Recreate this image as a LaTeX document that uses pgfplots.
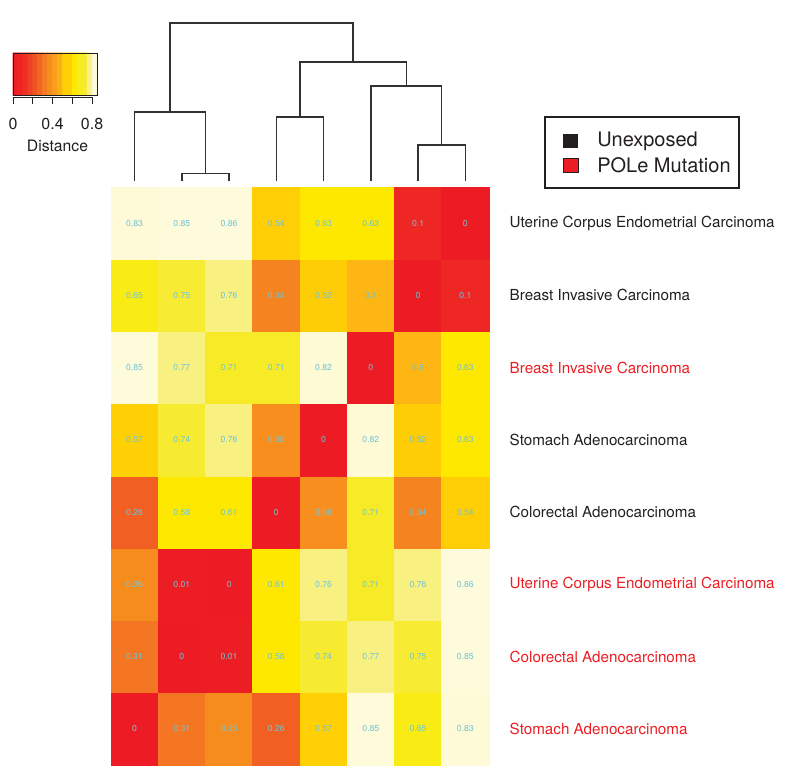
\documentclass[border=0pt]{standalone}
\usepackage{fontspec}
\setmainfont{TeX Gyre Heros}
\usepackage{pgfplots}
\pgfplotsset{compat=1.18}

\definecolor{labred}{RGB}{236,30,36}
\definecolor{cellblue}{RGB}{112,196,214}
\definecolor{dendro}{RGB}{50,50,50}
\definecolor{txt}{RGB}{35,31,32}

% R-style heat colours, positions = distance x 200
\pgfplotsset{colormap={heatR}{
  rgb255(0pt)=(237,28,36) rgb255(20pt)=(238,38,36) rgb255(52pt)=(241,95,34)
  rgb255(62pt)=(244,117,34) rgb255(72pt)=(246,140,30) rgb255(76pt)=(247,142,30)
  rgb255(100pt)=(253,182,20) rgb255(102pt)=(255,205,5) rgb255(115pt)=(255,208,4)
  rgb255(116pt)=(255,232,0) rgb255(126pt)=(255,232,0) rgb255(130pt)=(248,236,20)
  rgb255(150pt)=(247,235,52) rgb255(151pt)=(248,241,130) rgb255(154pt)=(248,241,130)
  rgb255(160pt)=(252,247,190) rgb255(164pt)=(254,250,214) rgb255(172pt)=(254,251,220)}}

\pgfplotstableread{
x y v
1 1 0
2 1 0.31
3 1 0.36
4 1 0.26
5 1 0.57
6 1 0.85
7 1 0.65
8 1 0.83
1 2 0.31
2 2 0
3 2 0.01
4 2 0.58
5 2 0.74
6 2 0.77
7 2 0.75
8 2 0.85
1 3 0.36
2 3 0.01
3 3 0
4 3 0.61
5 3 0.76
6 3 0.71
7 3 0.76
8 3 0.86
1 4 0.26
2 4 0.58
3 4 0.61
4 4 0
5 4 0.38
6 4 0.71
7 4 0.34
8 4 0.54
1 5 0.57
2 5 0.74
3 5 0.76
4 5 0.38
5 5 0
6 5 0.82
7 5 0.52
8 5 0.63
1 6 0.85
2 6 0.77
3 6 0.71
4 6 0.71
5 6 0.82
6 6 0
7 6 0.5
8 6 0.63
1 7 0.65
2 7 0.75
3 7 0.76
4 7 0.34
5 7 0.52
6 7 0.5
7 7 0
8 7 0.1
1 8 0.83
2 8 0.85
3 8 0.86
4 8 0.54
5 8 0.63
6 8 0.63
7 8 0.1
8 8 0
}\distmat

% colour key stripes
\pgfplotstableread{
x y v
0.025 0.25 0.025
0.075 0.25 0.075
0.125 0.25 0.125
0.175 0.25 0.175
0.225 0.25 0.225
0.275 0.25 0.275
0.325 0.25 0.325
0.375 0.25 0.375
0.425 0.25 0.425
0.475 0.25 0.475
0.525 0.25 0.525
0.575 0.25 0.575
0.625 0.25 0.625
0.675 0.25 0.675
0.725 0.25 0.725
0.775 0.25 0.775
0.825 0.25 0.825
0.025 0.75 0.025
0.075 0.75 0.075
0.125 0.75 0.125
0.175 0.75 0.175
0.225 0.75 0.225
0.275 0.75 0.275
0.325 0.75 0.325
0.375 0.75 0.375
0.425 0.75 0.425
0.475 0.75 0.475
0.525 0.75 0.525
0.575 0.75 0.575
0.625 0.75 0.625
0.675 0.75 0.675
0.725 0.75 0.725
0.775 0.75 0.775
0.825 0.75 0.825
}\keytab

\begin{document}
\begin{tikzpicture}

% === heatmap + dendrogram ===
\begin{axis}[
    at={(83.25pt,9pt)}, anchor=south west,
    scale only axis, width=283.5pt, height=433.5pt,
    xmin=0.5, xmax=8.5, ymin=0.5, ymax=8.5,
    axis line style={draw=none}, tick style={draw=none},
    xtick=\empty,
    ytick={1,...,8},
    yticklabel pos=right,
    yticklabel style={anchor=west, xshift=12pt, text=txt, font=\fontsize{11.4}{13}\selectfont},
    yticklabels={
      {\color{labred}Stomach Adenocarcinoma},
      {\color{labred}Colorectal Adenocarcinoma},
      {\color{labred}Uterine Corpus Endometrial Carcinoma},
      Colorectal Adenocarcinoma,
      Stomach Adenocarcinoma,
      {\color{labred}Breast Invasive Carcinoma},
      Breast Invasive Carcinoma,
      Uterine Corpus Endometrial Carcinoma},
    colormap name=heatR,
    point meta min=0, point meta max=0.86,
    clip=false,
]
\addplot[matrix plot*, mesh/cols=8, point meta=explicit,
    nodes near coords={\pgfmathprintnumber[fixed,precision=2,assume math mode=true]{\pgfplotspointmeta}},
    every node near coord/.append style={anchor=center, text=cellblue,
      font=\fontsize{6.5}{7}\selectfont}]
    table[x=x, y=y, meta=v] {\distmat};

% dendrogram (leaf tips at 8.58)
\addplot[dendro, line width=1pt, mark=none] coordinates {(2,8.58) (2,8.69) (3,8.69) (3,8.58)};
\addplot[dendro, line width=1pt, mark=none] coordinates {(1,8.58) (1,9.54) (2.5,9.54) (2.5,8.69)};
\addplot[dendro, line width=1pt, mark=none] coordinates {(4,8.58) (4,9.47) (5,9.47) (5,8.58)};
\addplot[dendro, line width=1pt, mark=none] coordinates {(7,8.58) (7,9.08) (8,9.08) (8,8.58)};
\addplot[dendro, line width=1pt, mark=none] coordinates {(6,8.58) (6,9.90) (7.5,9.90) (7.5,9.08)};
\addplot[dendro, line width=1pt, mark=none] coordinates {(4.5,9.47) (4.5,10.23) (6.75,10.23) (6.75,9.90)};
\addplot[dendro, line width=1pt, mark=none] coordinates {(1.75,9.54) (1.75,10.77) (5.625,10.77) (5.625,10.23)};
\end{axis}

% === colour key ===
\begin{axis}[
    at={(9.75pt,511.5pt)}, anchor=south west,
    scale only axis, width=63pt, height=31.5pt,
    xmin=0, xmax=0.85, ymin=0, ymax=1,
    hide axis, clip=false,
    colormap name=heatR,
    point meta min=0, point meta max=0.86,
]
\addplot[matrix plot*, mesh/cols=17, point meta=explicit]
    table[x=x, y=y, meta=v] {\keytab};
\draw[txt, line width=0.6pt] (axis cs:0,0) rectangle (axis cs:0.85,1);
\draw[txt, line width=0.6pt] (axis cs:0,-0.05) -- (axis cs:0.8,-0.05);
\pgfplotsinvokeforeach{0,0.2,0.4,0.6,0.8}{
  \draw[txt, line width=0.6pt] (axis cs:#1,-0.05) -- (axis cs:#1,-0.21);
}
\node[text=txt, font=\fontsize{12}{14}\selectfont] at (axis cs:0,-0.69) {0};
\node[text=txt, font=\fontsize{12}{14}\selectfont] at (axis cs:0.4,-0.69) {0.4};
\node[text=txt, font=\fontsize{12}{14}\selectfont] at (axis cs:0.8,-0.69) {0.8};
\node[text=txt, font=\fontsize{11.8}{14}\selectfont] at (axis cs:0.45,-1.21) {Distance};
\end{axis}

% === legend + canvas ===
\begin{scope}[x=0.75pt, y=0.75pt]
\path[use as bounding box] (0,0) rectangle (785,777);
\draw[txt, line width=0.8pt] (545,589) rectangle (739,660);
\fill[txt] (563,629) rectangle (578,643);
\fill[labred] (563,605) rectangle (578,619);
\draw[txt, line width=0.5pt] (563,605) rectangle (578,619);
\node[anchor=west, inner sep=0pt, text=txt, font=\fontsize{15}{17}\selectfont] at (597,636) {Unexposed};
\node[anchor=west, inner sep=0pt, text=txt, font=\fontsize{15}{17}\selectfont] at (597,612) {POLe Mutation};
\end{scope}

\end{tikzpicture}
\end{document}
